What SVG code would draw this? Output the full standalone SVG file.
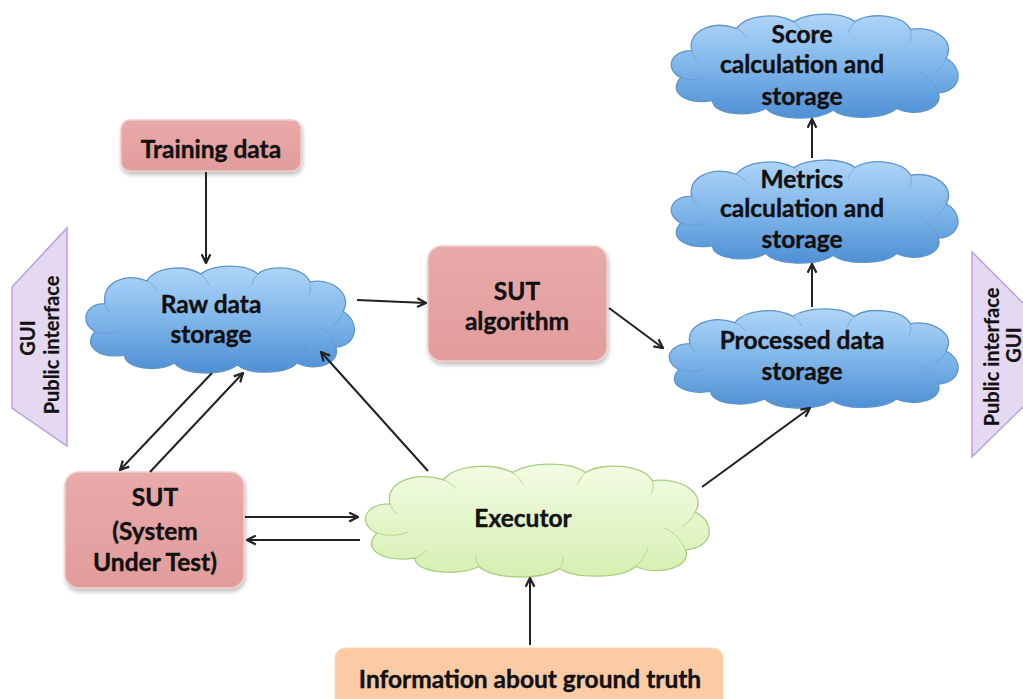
<svg xmlns="http://www.w3.org/2000/svg" xmlns:xlink="http://www.w3.org/1999/xlink" width="1023" height="699" viewBox="0 0 1023 699">
<defs>
  <linearGradient id="blue" x1="0" y1="0" x2="0" y2="1">
    <stop offset="0" stop-color="#AFD5F8"/>
    <stop offset="0.5" stop-color="#7FB6EA"/>
    <stop offset="1" stop-color="#4E8FD4"/>
  </linearGradient>
  <linearGradient id="green" x1="0" y1="0" x2="0" y2="1">
    <stop offset="0" stop-color="#F3FCE4"/>
    <stop offset="1" stop-color="#D6EFB2"/>
  </linearGradient>
  <linearGradient id="pink" x1="0" y1="0" x2="0" y2="1">
    <stop offset="0" stop-color="#E9AAAA"/>
    <stop offset="1" stop-color="#E29C9C"/>
  </linearGradient>
  <filter id="shadow" x="-10%" y="-10%" width="130%" height="130%">
    <feDropShadow dx="1" dy="3" stdDeviation="2" flood-color="#000" flood-opacity="0.25"/>
  </filter>
  <path id="cloud" d="M 27,40 C 22,20 48,8 72,17 C 82,3 112,0 130,10 C 145,0 178,-1 192,10 C 205,0 240,2 248,18 C 272,14 294,30 284,48 C 302,58 300,82 276,84 C 282,100 254,110 234,100 C 222,112 182,112 170,102 C 152,114 112,112 102,100 C 84,110 48,106 48,92 C 22,96 2,84 16,68 C 0,60 4,40 27,40 Z" vector-effect="non-scaling-stroke"/>
  <path id="cloudInner" fill="none" vector-effect="non-scaling-stroke" d="M 16,68 C 24,71 34,71 42,67 M 48,92 C 52,90 55,88 58,84 M 102,100 C 100,96 99,93 99,89 M 170,102 C 172,98 173,94 173,90 M 234,100 C 240,94 243,88 244,82 M 276,84 C 272,74 266,67 258,63 M 284,48 C 282,54 278,58 273,62 M 248,18 C 249,22 249,26 247,31 M 192,10 C 188,14 186,18 185,22 M 130,10 C 134,13 137,17 139,21 M 72,17 C 76,19 80,22 83,26 M 27,40 C 28,44 30,47 33,50"/>
  <marker id="arr" viewBox="0 0 10 10" refX="9" refY="5" markerWidth="11" markerHeight="11" markerUnits="userSpaceOnUse" orient="auto">
    <path d="M1,1 L9,5 L1,9" fill="none" stroke="#222" stroke-width="2" stroke-linejoin="miter"/>
  </marker>
</defs>
<style>
  text { font-family: Lato, "Open Sans", "Liberation Sans", sans-serif; font-weight: 700; font-size: 24.5px; fill: #111; stroke: #111; stroke-width: 0.4; text-anchor: middle; }
  text.gui { font-size: 20px; stroke-width: 0.2; }
  .box { fill: url(#pink); stroke: #F3CACA; stroke-width: 1.5; filter: url(#shadow); }
  .bcloud { fill: url(#blue); stroke: #5F95CC; stroke-width: 1.3; }
  .gcloud { fill: url(#green); stroke: #A9CF7C; stroke-width: 1.3; }
  .binner { stroke: #5F95CC; stroke-width: 1; opacity: 0.6; }
  .ginner { stroke: #A9CF7C; stroke-width: 1; opacity: 0.8; }
  .trap { fill: #E5D9F2; stroke: #B9A3D8; stroke-width: 1.5; }
  .conn line { stroke: #222; stroke-width: 2; marker-end: url(#arr); }
</style>
<rect width="1023" height="699" fill="#FFFFFF"/>

<g id="gui-left">
  <polygon class="trap" points="12,287 67,228 67,446 12,408"/>
  <text class="gui" transform="translate(35,338) rotate(-90)">GUI</text>
  <text class="gui" transform="translate(59,345) rotate(-90)">Public interface</text>
</g>

<g id="gui-right">
  <polygon class="trap" points="972,252 1030,310 1030,400 972,457"/>
  <text class="gui" transform="translate(999,357) rotate(-90)">Public interface</text>
  <text class="gui" transform="translate(1021,345) rotate(-90)">GUI</text>
</g>

<g id="training-data">
  <rect class="box" x="121" y="120" width="180" height="51" rx="9"/>
  <text x="211" y="158">Training data</text>
</g>

<g id="raw-data">
  <use href="#cloud" class="bcloud" transform="translate(80,264) scale(0.927,0.99)"/>
  <use href="#cloudInner" class="binner" transform="translate(80,264) scale(0.927,0.99)"/>
  <text x="211" y="313">Raw data</text>
  <text x="211" y="343">storage</text>
</g>

<g id="sut-algorithm">
  <rect class="box" x="428" y="246" width="179" height="115" rx="14"/>
  <text x="517" y="300">SUT</text>
  <text x="517" y="330">algorithm</text>
</g>

<g id="processed-data">
  <use href="#cloud" class="bcloud" transform="translate(663,307) scale(0.997,0.918)"/>
  <use href="#cloudInner" class="binner" transform="translate(663,307) scale(0.997,0.918)"/>
  <text x="802" y="349">Processed data</text>
  <text x="802" y="380">storage</text>
</g>

<g id="metrics">
  <use href="#cloud" class="bcloud" transform="translate(665,158) scale(0.99,0.955)"/>
  <use href="#cloudInner" class="binner" transform="translate(665,158) scale(0.99,0.955)"/>
  <text x="802" y="188">Metrics</text>
  <text x="802" y="217">calculation and</text>
  <text x="802" y="248">storage</text>
</g>

<g id="score">
  <use href="#cloud" class="bcloud" transform="translate(665,12) scale(0.99,0.964)"/>
  <use href="#cloudInner" class="binner" transform="translate(665,12) scale(0.99,0.964)"/>
  <text x="802" y="43">Score</text>
  <text x="802" y="73">calculation and</text>
  <text x="802" y="105">storage</text>
</g>

<g id="sut">
  <rect class="box" x="65" y="472" width="179" height="116" rx="14"/>
  <text x="155" y="506">SUT</text>
  <text x="155" y="540">(System</text>
  <text x="155" y="571">Under Test)</text>
</g>

<g id="executor">
  <use href="#cloud" class="gcloud" transform="translate(358,462) scale(1.187,1.045)"/>
  <use href="#cloudInner" class="ginner" transform="translate(358,462) scale(1.187,1.045)"/>
  <text x="523" y="527">Executor</text>
</g>

<g id="ground-truth">
  <rect x="335" y="648" width="388" height="62" rx="10" fill="#FCCBA4" stroke="#FAD9BD" stroke-width="1"/>
  <text x="530" y="688">Information about ground truth</text>
</g>

<g id="connectors" class="conn">
  <line x1="206" y1="172" x2="206" y2="263"/>
  <line x1="357" y1="300" x2="426" y2="303"/>
  <line x1="609" y1="308" x2="663" y2="348"/>
  <line x1="812" y1="307" x2="812" y2="264"/>
  <line x1="812" y1="158" x2="812" y2="119"/>
  <line x1="212" y1="373" x2="120" y2="470"/>
  <line x1="150" y1="472" x2="243" y2="373"/>
  <line x1="428" y1="471" x2="321" y2="352"/>
  <line x1="245" y1="517" x2="358" y2="517"/>
  <line x1="360" y1="540" x2="247" y2="540"/>
  <line x1="530" y1="645" x2="530" y2="578"/>
  <line x1="702" y1="487" x2="810" y2="408"/>
</g>
</svg>
